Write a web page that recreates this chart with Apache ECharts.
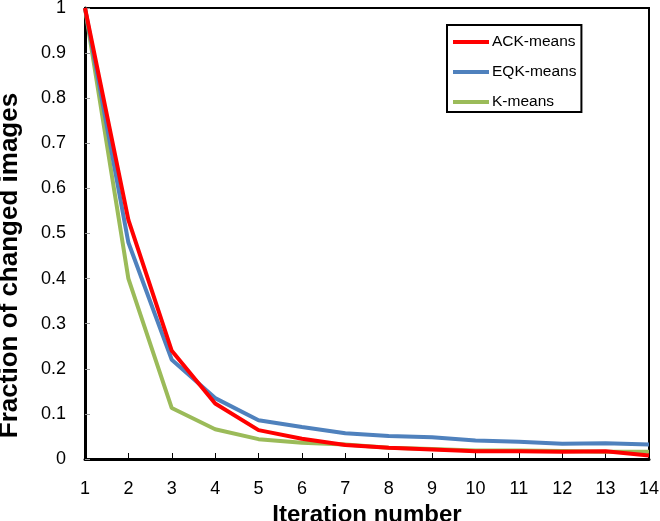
<!DOCTYPE html>
<html><head><meta charset="utf-8">
<script src="https://cdn.jsdelivr.net/npm/echarts@6/dist/echarts.min.js"></script>
<style>html,body{margin:0;padding:0;background:#fff}#c{width:660px;height:521px}</style>
</head><body><div id="c"></div>
<script>
const iterations = [1,2,3,4,5,6,7,8,9,10,11,12,13,14];
const ackMeans = [1.0,0.53,0.24,0.123,0.064,0.045,0.031,0.025,0.021,0.017,0.017,0.016,0.017,0.008];
const eqkMeans = [1.0,0.48,0.22,0.135,0.086,0.071,0.057,0.051,0.048,0.041,0.038,0.034,0.035,0.032];
const kMeans   = [1.0,0.40,0.113,0.066,0.044,0.036,0.032,0.025,0.022,0.019,0.019,0.018,0.016,0.016];
const yTicks = [0,0.1,0.2,0.3,0.4,0.5,0.6,0.7,0.8,0.9,1];

const pair = arr => iterations.map((x,i)=>[x,arr[i]]);
const chart = echarts.init(document.getElementById('c'));
const font = 'Liberation Sans, Arial, sans-serif';
const mk = (name, data, color) => ({
  name, type:'line', data: pair(data), symbol:'none', smooth:false,
  lineStyle:{color, width:4}, itemStyle:{color}
});
chart.setOption({
  animation:false,
  grid:{left:85, right:11, top:8, bottom:62, show:true, borderColor:'#000', borderWidth:2,
        containLabel:false, outerBoundsMode:'none'},
  legend:{
    orient:'vertical', left:447, top:25,
    backgroundColor:'#fff', borderColor:'#000', borderWidth:2,
    padding:[9,5,2,6], itemGap:14, itemWidth:36, itemHeight:4, icon:'rect',
    textStyle:{fontFamily:font, fontSize:15.5, color:'#000', padding:[0,0,0,-2]},
    data:['ACK-means','EQK-means','K-means']
  },
  xAxis:{
    type:'value', min:1, max:14, interval:1,
    name:'Iteration number', nameLocation:'middle', nameGap:35,
    nameTextStyle:{fontFamily:font, fontWeight:'bold', fontSize:24, color:'#000'},
    axisLine:{lineStyle:{color:'#000', width:3}},
    axisTick:{inside:true, length:6, lineStyle:{color:'#000', width:1}},
    axisLabel:{fontFamily:font, fontSize:18, color:'#000', margin:21},
    splitLine:{show:false}
  },
  yAxis:{
    type:'value', min:0, max:1, interval:0.1,
    name:'Fraction of changed images', nameLocation:'middle', nameGap:62,
    nameTextStyle:{fontFamily:font, fontWeight:'bold', fontSize:26, color:'#000', padding:[0,64,0,0]},
    axisLine:{show:true, lineStyle:{color:'#000', width:3}},
    axisTick:{show:true, inside:true, length:5, lineStyle:{color:'#999', width:1}},
    axisLabel:{fontFamily:font, fontSize:18, color:'#000', margin:19,
      formatter: v => { const t = yTicks.find(q=>Math.abs(q-v)<1e-9); return t===undefined?'':String(t); }},
    splitLine:{show:false}
  },
  series:[
    mk('K-means', kMeans, '#9BBB59'),
    mk('EQK-means', eqkMeans, '#4F81BD'),
    mk('ACK-means', ackMeans, '#FF0000')
  ]
});
</script></body></html>
